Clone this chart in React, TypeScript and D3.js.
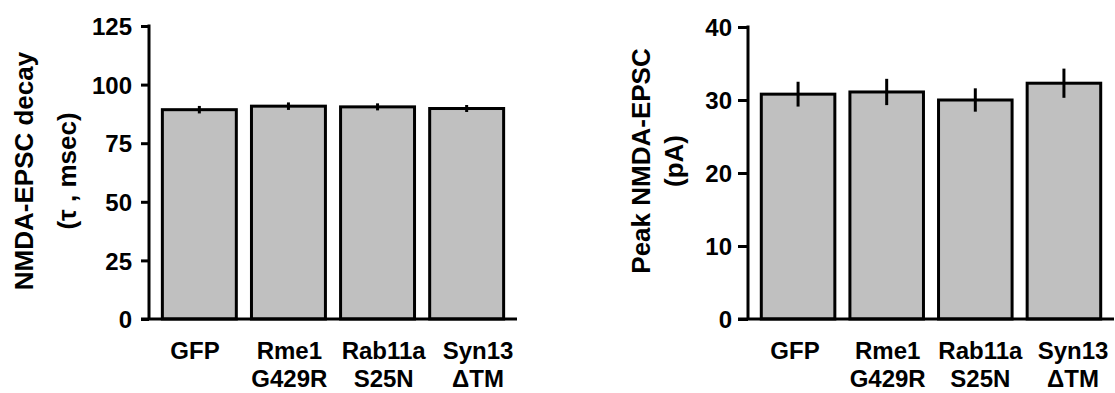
import React, { useEffect, useRef } from 'react';
import * as d3 from 'd3';

const categories = ['GFP', 'Rme1', 'Rab11a', 'Syn13'];
const subLabels = ['', 'G429R', 'S25N', 'ΔTM'];

const decayMeans = [89.3, 90.8, 90.5, 89.8];
const decayErrors = [1.6, 1.6, 1.5, 1.5];
const decayTicks = [0, 25, 50, 75, 100, 125];

const peakMeans = [30.8, 31.1, 30.0, 32.3];
const peakErrors = [1.7, 1.8, 1.6, 2.0];
const peakTicks = [0, 10, 20, 30, 40];

const FONT = '"Liberation Sans", Arial, Helvetica, sans-serif';

type Panel = {
    axisX: number;
    axisEnd: number;
    yTop: number;
    yBottom: number;
    max: number;
    ticks: number[];
    tickSize: number;
    tickPadding: number;
    means: number[];
    errors: number[];
    titles: string[];
    titleX: number[];
    titleY: number;
    labelLeft: number;
    labelRight: number;
};

function drawPanel(root: d3.Selection<SVGSVGElement, unknown, null, undefined>, p: Panel) {
    const g = root.append('g');

    const x = d3.scaleBand<string>()
        .domain(categories)
        .range([p.axisX, p.axisEnd])
        .paddingInner(0.17)
        .paddingOuter(0.15);

    const y = d3.scaleLinear()
        .domain([0, p.max])
        .range([p.yBottom, p.yTop]);

    const labelX = d3.scalePoint<string>()
        .domain(categories)
        .range([p.labelLeft, p.labelRight]);

    // bars
    g.selectAll('rect.bar')
        .data(p.means)
        .enter()
        .append('rect')
            .attr('class', 'bar')
            .attr('x', (d, i) => x(categories[i])!)
            .attr('y', d => y(d))
            .attr('width', x.bandwidth())
            .attr('height', d => y(0) - y(d))
            .attr('fill', '#c0c0c0')
            .attr('stroke', '#000')
            .attr('stroke-width', 3);

    // error bars
    g.selectAll('line.err')
        .data(p.means)
        .enter()
        .append('line')
            .attr('class', 'err')
            .attr('x1', (d, i) => x(categories[i])! + x.bandwidth() / 2)
            .attr('x2', (d, i) => x(categories[i])! + x.bandwidth() / 2)
            .attr('y1', (d, i) => y(d + p.errors[i]))
            .attr('y2', (d, i) => y(d - p.errors[i]))
            .attr('stroke', '#000')
            .attr('stroke-width', 3);

    // y axis
    const yAxis = d3.axisLeft(y)
        .tickValues(p.ticks)
        .tickSize(p.tickSize)
        .tickPadding(p.tickPadding)
        .tickFormat(d3.format('d'));

    const axisG = g.append('g')
        .attr('transform', `translate(${p.axisX},0)`)
        .call(yAxis);
    axisG.select('.domain').remove();
    axisG.selectAll('line').attr('stroke', '#000').attr('stroke-width', 3);
    axisG.selectAll('text')
        .attr('font-family', FONT)
        .attr('font-weight', 'bold')
        .attr('font-size', 24)
        .attr('fill', '#000')
        .attr('dy', '0.36em');
    axisG.attr('font-size', null).attr('font-family', null);

    g.append('line')
        .attr('x1', p.axisX).attr('x2', p.axisX)
        .attr('y1', y(p.max) - 1.5).attr('y2', y(0))
        .attr('stroke', '#000').attr('stroke-width', 3);

    g.append('line')
        .attr('x1', p.axisX - p.tickSize).attr('x2', p.axisEnd)
        .attr('y1', y(0)).attr('y2', y(0))
        .attr('stroke', '#000').attr('stroke-width', 3);

    // category labels
    const labels = g.append('g')
        .attr('font-family', FONT)
        .attr('font-weight', 'bold')
        .attr('font-size', 24)
        .attr('text-anchor', 'middle');

    categories.forEach((c, i) => {
        labels.append('text')
            .attr('x', labelX(c)!)
            .attr('y', 358.5)
            .text(c);
        if (subLabels[i]) {
            labels.append('text')
                .attr('x', labelX(c)!)
                .attr('y', 387)
                .text(subLabels[i]);
        }
    });

    // y titles
    p.titles.forEach((t, i) => {
        g.append('text')
            .attr('transform', `translate(${p.titleX[i]},${p.titleY}) rotate(-90)`)
            .attr('text-anchor', 'middle')
            .attr('font-family', FONT)
            .attr('font-weight', 'bold')
            .attr('font-size', 26)
            .text(t);
    });
}

export default function App() {
    const svgRef = useRef<SVGSVGElement>(null);

    useEffect(() => {
        const svg = d3.select(svgRef.current!);
        svg.selectAll('*').remove();

        drawPanel(svg, {
            axisX: 149,
            axisEnd: 517,
            yTop: 26,
            yBottom: 319,
            max: 125,
            ticks: decayTicks,
            tickSize: 8,
            tickPadding: 9,
            means: decayMeans,
            errors: decayErrors,
            titles: ['NMDA-EPSC decay', '(τ  , msec)'],
            titleX: [33, 76],
            titleY: 171,
            labelLeft: 195,
            labelRight: 478,
        });

        drawPanel(svg, {
            axisX: 748,
            axisEnd: 1114,
            yTop: 27,
            yBottom: 319,
            max: 40,
            ticks: peakTicks,
            tickSize: 10,
            tickPadding: 6,
            means: peakMeans,
            errors: peakErrors,
            titles: ['Peak NMDA-EPSC', '(pA)'],
            titleX: [650, 683],
            titleY: 161,
            labelLeft: 795,
            labelRight: 1073,
        });
    }, []);

    return (
        <svg
            ref={svgRef}
            width={1115}
            height={393}
            style={{ position: 'absolute', left: 0, top: 0, background: '#fff' }}
        />
    );
}
